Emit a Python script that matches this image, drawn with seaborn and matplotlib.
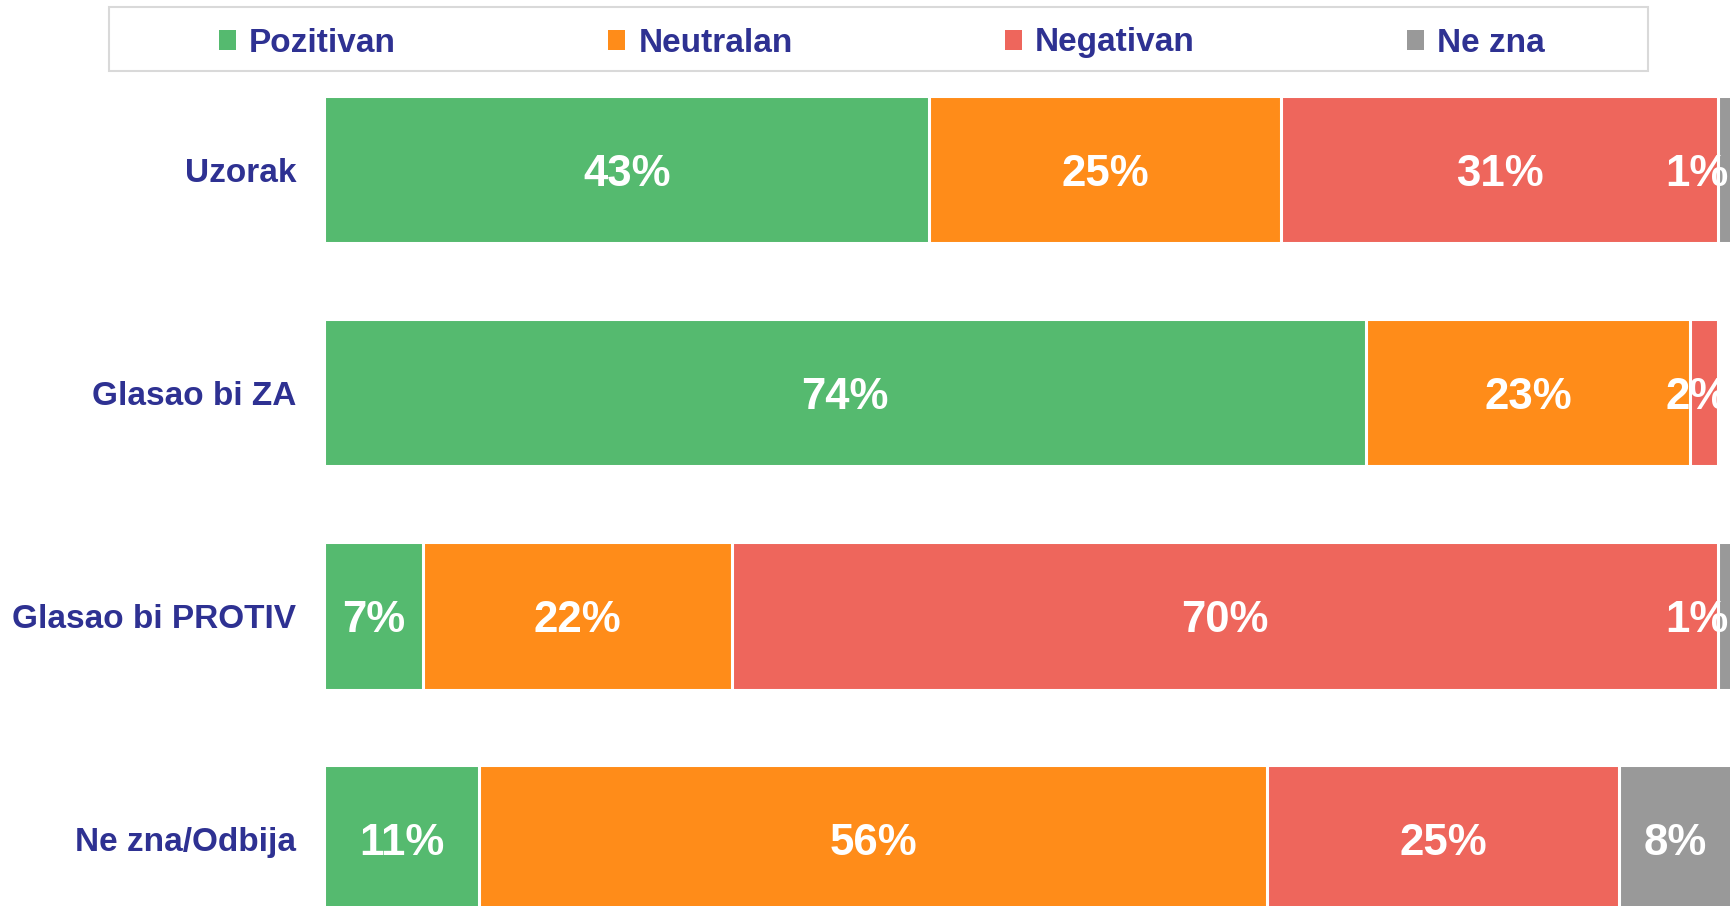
import seaborn as sns
import pandas as pd
import matplotlib.pyplot as plt
from matplotlib.patches import Patch, Rectangle

groups = ['Uzorak', 'Glasao bi ZA', 'Glasao bi PROTIV', 'Ne zna/Odbija']
answers = ['Pozitivan', 'Neutralan', 'Negativan', 'Ne zna']
pozitivan = [43, 74, 7, 11]
neutralan = [25, 23, 22, 56]
negativan = [31, 2, 70, 25]
ne_zna = [1, 0, 1, 8]
colors = ['#55BA6F', '#FF8C19', '#EE665C', '#999999']
navy = '#2E3192'

sns.set_style('white')
plt.rcParams['font.family'] = ['Liberation Sans', 'DejaVu Sans']
plt.rcParams['font.weight'] = 'bold'

values = [pozitivan, neutralan, negativan, ne_zna]
df = pd.DataFrame({'group': groups})
cum = [0] * len(groups)
for name, vals in zip(answers, values):
    df[name] = vals
    cum = [c + v for c, v in zip(cum, vals)]
    df[name + '_cum'] = cum

fig = plt.figure(figsize=(17.31, 9.06), dpi=100)
ax = fig.add_axes([324 / 1731, 0, 1408 / 1731, 828 / 906])

# stacked look: draw cumulative totals from the longest to the shortest
for name, col in reversed(list(zip(answers, colors))):
    sns.barplot(data=df, x=name + '_cum', y='group', color=col, orient='h',
                width=0.66, edgecolor='white', linewidth=2.2, ax=ax,
                saturation=1)

for i in range(len(groups)):
    left = 0
    for vals in values:
        v = vals[i]
        if v > 0:
            x = min(left + v / 2, 97.5)
            ax.text(x, i, f'{v}%', ha='center', va='center_baseline',
                    color='white', fontsize=31.5, fontweight='bold')
        left += v

ax.set_xlim(0, 100)
ax.set_ylim(3.30, -0.41)
ax.set_xlabel('')
ax.set_ylabel('')
ax.set_xticks([])
ax.tick_params(axis='y', length=0, pad=20, labelsize=24, labelcolor=navy)
for lab in ax.get_yticklabels():
    lab.set_fontweight('bold')
    lab.set_verticalalignment('center_baseline')
sns.despine(ax=ax, left=True, bottom=True)

fig.patches.append(Rectangle((109 / 1731, 1 - 71 / 906), 1539 / 1731, 64 / 906,
                             transform=fig.transFigure, fill=False,
                             edgecolor='#D9D9D9', linewidth=1.5))
handles = [Patch(facecolor=c, edgecolor='none') for c in colors]
leg = fig.legend(handles, answers, ncol=4, loc='center',
                 bbox_to_anchor=(882 / 1731, 1 - 43 / 906), frameon=False,
                 fontsize=24, handlelength=0.5, handleheight=0.54,
                 handletextpad=0.4, columnspacing=6.37)
for t in leg.get_texts():
    t.set_color(navy)
    t.set_fontweight('bold')

fig.savefig('out.png', dpi=100)
